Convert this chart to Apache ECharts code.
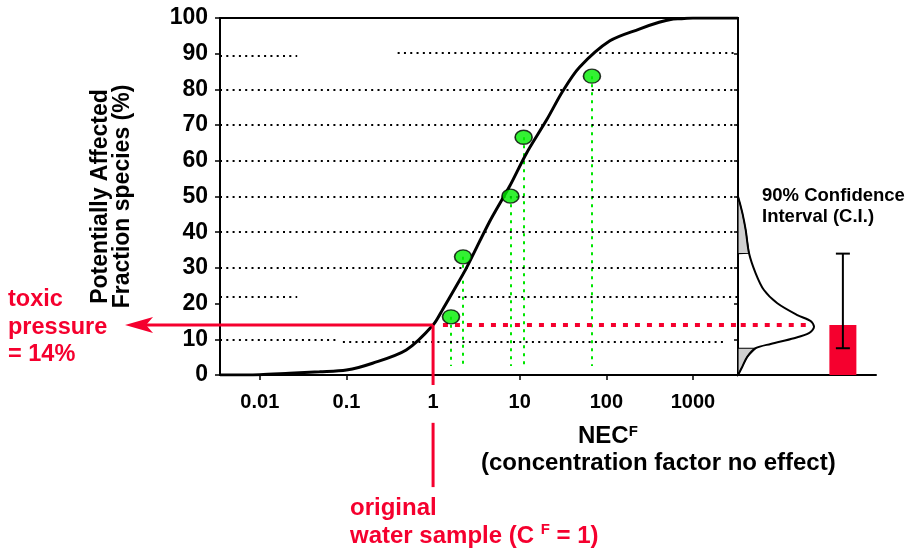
<!DOCTYPE html>
<html>
<head>
<meta charset="utf-8">
<script src="https://cdn.jsdelivr.net/npm/echarts@6/dist/echarts.min.js"></script>
<style>
  html, body { margin: 0; padding: 0; background: #fff; }
  #chart { width: 908px; height: 554px; }
</style>
</head>
<body>
<div id="chart"></div>
<script>
// x axis (log, NEC factor)
const xTicks = [0.01, 0.1, 1, 10, 100, 1000];
const xTickLabels = ['0.01', '0.1', '1', '10', '100', '1000'];
const xMin = 0.00347;
const xMax = 3311;

// fitted SSD curve
const curveX = [0.00347, 0.01, 0.022, 0.049, 0.1, 0.2, 0.49, 1, 1.3, 1.86, 2.43, 4.5, 7.7, 11.9, 20.4, 31.6, 49, 110, 240, 407, 590, 708, 1000, 3311];
const curveY = [0, 0.1, 0.5, 0.9, 1.4, 3.3, 7.0, 14, 18.5, 25, 30, 43, 53, 62, 71.4, 79.6, 86.2, 93.6, 96.9, 98.8, 99.7, 99.8, 100, 100];

// measured species NEC points
const pointsX = [1.61, 2.22, 7.82, 11.1, 68.2];
const pointsY = [16.3, 33.1, 50.1, 66.6, 83.7];
const dropToY = 2.5;

// dotted guide lines (some are broken in the original)
const gridFrom = [0.00347, 0.39, 0.00347, 0.00347, 0.00347, 0.00347, 0.00347, 0.00347, 0.00347, 1.95, 0.00347, 0.091];
const gridTo   = [0.027, 3311, 3311, 3311, 3311, 3311, 3311, 3311, 0.027, 3311, 0.083, 2450];
const gridY    = [89.4, 90.4, 80, 70, 60, 50, 40, 30, 21.8, 21.8, 10, 9.2];

// toxic pressure of the original sample
const toxicPressure = 14;
const sampleCF = 1;
const arrowTipX = 0.000278;
const redDropA = [14, -2.8];
const redDropB = [-13.4, -31.4];

// uncertainty distribution (right panel): value (%) and relative density
const densityY = [0, 0.5, 2.3, 5.1, 7.5, 8.7, 10.3, 11.7, 13.5, 15.1, 16.8, 20.1, 23.8, 28.5, 34.1, 40.6, 45, 47.8, 50];
const densityX = [0, 0.007, 0.031, 0.067, 0.128, 0.237, 0.406, 0.514, 0.551, 0.527, 0.43, 0.285, 0.188, 0.128, 0.08, 0.056, 0.034, 0.016, 0];
const ciLow = 7.5;
const ciHigh = 34;
const ciBarX = 0.76;

const RED = '#f5002e';
const FONT = 'Liberation Sans, Arial, sans-serif';

const curveData = curveX.map((x, i) => [x, curveY[i]]);
const pointData = pointsX.map((x, i) => [x, pointsY[i]]);
const densityData = densityX.map((x, i) => [x, densityY[i]]);
const lowerTail = densityData.filter(d => d[1] <= ciLow).concat([[0, ciLow]]);
const upperTail = [[0, ciHigh]].concat(densityData.filter(d => d[1] >= ciHigh));

const dotted = { color: '#000', width: 2, type: [2, 4.3] };

function polygonSeries(poly) {
  return {
    type: 'custom', xAxisIndex: 1, yAxisIndex: 1, data: [[0, 0]], silent: true, z: 3,
    renderItem: (params, api) => ({
      type: 'polygon',
      shape: { points: poly.map(p => api.coord(p)) },
      style: { fill: '#cfcfcf', stroke: '#000', lineWidth: 1.2 }
    })
  };
}

const chart = echarts.init(document.getElementById('chart'));
chart.setOption({
  animation: false,
  textStyle: { fontFamily: FONT },
  grid: [
    { left: 220, right: 170, top: 18, bottom: 179, show: true, borderColor: '#000', borderWidth: 2, backgroundColor: 'transparent' },
    { left: 738, right: 32, top: 18, bottom: 179 }
  ],
  xAxis: [
    {
      type: 'log', gridIndex: 0, min: xMin, max: xMax,
      axisLine: { lineStyle: { color: '#000', width: 2 } },
      axisTick: { customValues: xTicks, length: 5, lineStyle: { color: '#000', width: 1.5 } },
      axisLabel: {
        customValues: xTicks, margin: 17, color: '#000', fontWeight: 'bold', fontSize: 20, fontFamily: FONT,
        formatter: v => xTickLabels[xTicks.indexOf(v)] || ''
      },
      splitLine: { show: false }, minorSplitLine: { show: false }
    },
    {
      type: 'value', gridIndex: 1, min: 0, max: 1,
      axisLine: { lineStyle: { color: '#000', width: 2 } },
      axisTick: { show: false }, axisLabel: { show: false }, splitLine: { show: false }
    }
  ],
  yAxis: [
    {
      type: 'value', gridIndex: 0, min: 0, max: 100, interval: 10,
      name: 'Potentially Affected\nFraction species (%)',
      nameLocation: 'middle', nameGap: 86,
      nameTextStyle: { color: '#000', fontWeight: 'bold', fontSize: 23, lineHeight: 22, fontFamily: FONT },
      axisLine: { lineStyle: { color: '#000', width: 2 } },
      axisTick: { length: 5, lineStyle: { color: '#000', width: 1.5 } },
      axisLabel: { margin: 12, color: '#000', fontWeight: 'bold', fontSize: 23, fontFamily: FONT },
      splitLine: { show: false }
    },
    {
      type: 'value', gridIndex: 1, min: 0, max: 100, interval: 10,
      axisLine: { lineStyle: { color: '#000', width: 2 } },
      axisTick: { length: 4, lineStyle: { color: '#000', width: 1.5 } },
      axisLabel: { show: false }, splitLine: { show: false }
    }
  ],
  series: [
    {
      name: 'guides', type: 'line', data: [], silent: true,
      markLine: {
        symbol: 'none', silent: true, label: { show: false }, animation: false,
        lineStyle: dotted,
        data: gridY.map((y, i) => [{ coord: [gridFrom[i], y] }, { coord: [gridTo[i], y] }])
      }
    },
    {
      name: 'red dotted', type: 'line', clip: false, symbol: 'none', silent: true, z: 4,
      data: [[1.3, toxicPressure], [xMax, toxicPressure]],
      lineStyle: { color: RED, width: 4, type: [5, 7] }
    },
    {
      name: 'red dotted right', type: 'line', xAxisIndex: 1, yAxisIndex: 1, symbol: 'none', silent: true, z: 4,
      data: [[0.02, toxicPressure], [0.54, toxicPressure]],
      lineStyle: { color: RED, width: 4, type: [5, 7] }
    },
    {
      name: 'SSD', type: 'line', smooth: 0.3, symbol: 'none', silent: true, z: 5,
      data: curveData,
      lineStyle: { color: '#000', width: 3 }
    },
    {
      name: 'toxic pressure', type: 'custom', clip: false, silent: true, z: 6,
      data: [[arrowTipX, toxicPressure, sampleCF]],
      encode: { x: [0, 2], y: 1 },
      renderItem: (params, api) => {
        const tip = api.coord([api.value(0), api.value(1)]);
        const start = api.coord([api.value(2), api.value(1)]);
        return {
          type: 'group',
          children: [
            { type: 'line', shape: { x1: start[0], y1: start[1], x2: tip[0] + 20, y2: tip[1] }, style: { stroke: RED, lineWidth: 3 } },
            {
              type: 'polygon',
              shape: { points: [[tip[0], tip[1]], [tip[0] + 28, tip[1] - 8], [tip[0] + 21, tip[1]], [tip[0] + 28, tip[1] + 8]] },
              style: { fill: RED }
            }
          ]
        };
      }
    },
    {
      name: 'sample drop a', type: 'line', clip: false, symbol: 'none', silent: true, z: 6,
      data: redDropA.map(y => [sampleCF, y]),
      lineStyle: { color: RED, width: 3 }
    },
    {
      name: 'sample drop b', type: 'line', clip: false, symbol: 'none', silent: true, z: 6,
      data: redDropB.map(y => [sampleCF, y]),
      lineStyle: { color: RED, width: 3 }
    },
    {
      name: 'species', type: 'scatter', z: 7,
      data: pointData,
      symbol: 'circle', symbolSize: [17, 14],
      itemStyle: { color: '#00ee00', borderColor: '#000', borderWidth: 1.5 },
      markLine: {
        symbol: 'none', silent: true, label: { show: false }, animation: false, z: 2,
        lineStyle: { color: '#00e600', width: 2, type: [3, 5] },
        data: pointData.map(p => [{ coord: [p[0], p[1]] }, { coord: [p[0], dropToY] }])
      }
    },
    polygonSeries(lowerTail),
    polygonSeries(upperTail),
    {
      name: 'density', type: 'line', xAxisIndex: 1, yAxisIndex: 1, symbol: 'none', silent: true, z: 5,
      smooth: 0.3,
      data: densityData,
      lineStyle: { color: '#000', width: 2 }
    },
    {
      name: 'toxic pressure bar', type: 'bar', xAxisIndex: 1, yAxisIndex: 1, barWidth: 27, z: 4,
      data: [[ciBarX, toxicPressure]],
      itemStyle: { color: RED }
    },
    {
      name: 'CI', type: 'custom', xAxisIndex: 1, yAxisIndex: 1, z: 6,
      data: [[ciBarX, ciLow, ciHigh]],
      encode: { x: 0, y: [1, 2] },
      renderItem: (params, api) => {
        const lo = api.coord([api.value(0), api.value(1)]);
        const hi = api.coord([api.value(0), api.value(2)]);
        const st = { stroke: '#000', lineWidth: 2 };
        return {
          type: 'group',
          children: [
            { type: 'line', shape: { x1: lo[0], y1: lo[1], x2: hi[0], y2: hi[1] }, style: st },
            { type: 'line', shape: { x1: lo[0] - 7, y1: lo[1], x2: lo[0] + 7, y2: lo[1] }, style: st },
            { type: 'line', shape: { x1: hi[0] - 7, y1: hi[1], x2: hi[0] + 7, y2: hi[1] }, style: st }
          ]
        };
      }
    }
  ],
  graphic: [
    {
      type: 'text', left: 8, top: 286,
      style: { text: 'toxic\npressure\n= 14%', fill: RED, font: 'bold 23.5px ' + FONT, lineHeight: 27.5 }
    },
    {
      type: 'text', left: 350, top: 496,
      style: {
        text: '{a|original}\n{a|water sample (C }{s|F}{a| = 1)}',
        rich: {
          a: { fill: RED, font: 'bold 24px ' + FONT, lineHeight: 28 },
          s: { fill: RED, font: 'bold 15px ' + FONT, lineHeight: 28, verticalAlign: 'top', padding: [0, 0, 6, 0] }
        }
      }
    },
    {
      type: 'text', left: 578, top: 424,
      style: {
        text: '{a|NEC}{s|F}',
        rich: {
          a: { fill: '#000', font: 'bold 24px ' + FONT, lineHeight: 24 },
          s: { fill: '#000', font: 'bold 15px ' + FONT, lineHeight: 24, padding: [0, 0, 8, 0] }
        }
      }
    },
    {
      type: 'text', left: 481, top: 451,
      style: { text: '(concentration factor no effect)', fill: '#000', font: 'bold 24px ' + FONT }
    },
    {
      type: 'text', left: 762, top: 185,
      style: { text: '90% Confidence\nInterval (C.I.)', fill: '#000', font: 'bold 18.5px ' + FONT, lineHeight: 21 }
    }
  ]
});
</script>
</body>
</html>
